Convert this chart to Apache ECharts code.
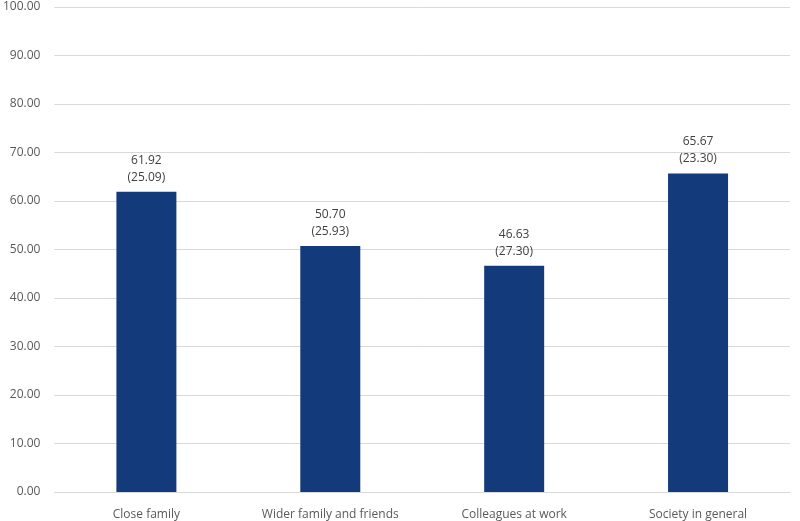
<!DOCTYPE html>
<html>
<head>
<meta charset="utf-8">
<script src="https://cdn.jsdelivr.net/npm/echarts@6/dist/echarts.min.js"></script>
<style>
  html, body { margin: 0; padding: 0; background: #fff; }
  #chart { width: 800px; height: 521px; }
</style>
</head>
<body>
<div id="chart"></div>
<script>
var categories = ["Close family", "Wider family and friends", "Colleagues at work", "Society in general"];
var means = [61.92, 50.7, 46.63, 65.67];
var sds = [25.09, 25.93, 27.3, 23.3];

var chart = echarts.init(document.getElementById("chart"));
chart.setOption({
  animation: false,
  textStyle: { fontFamily: "Open Sans, sans-serif" },
  grid: { left: 53, right: 10, top: 7, bottom: 29, containLabel: false },
  xAxis: {
    type: "category",
    data: categories,
    axisTick: { show: false },
    axisLine: { show: true, lineStyle: { color: "#d9d9d9" } },
    axisLabel: { color: "#595959", fontSize: 12, margin: 17 }
  },
  yAxis: {
    type: "value",
    min: 0,
    max: 100,
    interval: 10,
    axisLine: { show: false },
    axisTick: { show: false },
    splitLine: { lineStyle: { color: "#d9d9d9" } },
    axisLabel: {
      color: "#595959",
      fontSize: 12,
      margin: 14,
      formatter: function (v) { return v.toFixed(2); }
    }
  },
  series: [
    {
      type: "bar",
      barWidth: 60,
      itemStyle: { color: "#133a7a" },
      data: means,
      label: {
        show: true,
        position: "top",
        distance: 6,
        color: "#404040",
        fontSize: 12,
        lineHeight: 17,
        formatter: function (p) {
          return p.value.toFixed(2) + "\n(" + sds[p.dataIndex].toFixed(2) + ")";
        }
      }
    }
  ]
});
window.onresize = function () { chart.resize(); };
</script>
</body>
</html>
